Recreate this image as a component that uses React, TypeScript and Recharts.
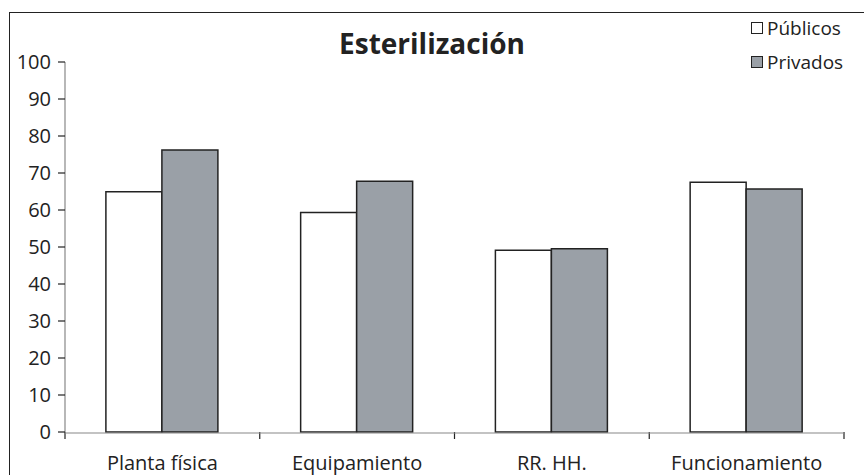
import { Bar, BarChart, Legend, XAxis, YAxis } from "recharts"

const categories = ["Planta física", "Equipamiento", "RR. HH.", "Funcionamiento"]
const publicos = [64.9, 59.3, 49.1, 67.5]
const privados = [76.2, 67.8, 49.5, 65.7]
const seriesOrder = ["Públicos", "Privados"]
const yTicks = [0, 10, 20, 30, 40, 50, 60, 70, 80, 90, 100]
const boundaryTicks = [0, 1, 2, 3, 4]

const data = categories.map((name, i) => ({ name, idx: i + 0.5, publicos: publicos[i], privados: privados[i] }))

const FONT = "'Open Sans', sans-serif"
const GRAY = "#9aa0a7"

function LegendBox({ payload }: any) {
  const items = [...(payload || [])].sort((a: any, b: any) => seriesOrder.indexOf(a.value) - seriesOrder.indexOf(b.value))
  return (
    <div style={{ fontFamily: FONT, fontSize: 19, color: "#222" }}>
      {items.map((p: any) => (
        <div key={p.value} style={{ display: "flex", alignItems: "center", height: 34 }}>
          <span style={{ width: 10, height: 10, border: "1.5px solid #222", background: p.payload.fill, marginRight: 4 }} />
          {p.value}
        </div>
      ))}
    </div>
  )
}

// boundary ticks only need the tick line, no label
const NoLabel = () => <g />

export default function App() {
  return (
    <div style={{ position: "absolute", left: 0, top: 0, width: 864, height: 475, overflow: "hidden", background: "#fff" }}>
      <div style={{ position: "absolute", left: 9, top: 12, width: 900, height: 500, border: "1.5px solid #222" }} />
      <div style={{ position: "absolute", left: 432, top: 24, transform: "translateX(-50%)", fontFamily: FONT, fontWeight: 700, fontSize: 28, color: "#222", whiteSpace: "nowrap" }}>
        Esterilización
      </div>
      <BarChart width={864} height={475} data={data} margin={{ top: 62, right: 20, bottom: 0, left: 0 }}
        barGap={0} barCategoryGap="21%" style={{ position: "absolute", left: 0, top: 0 }}>
        <XAxis xAxisId="b" type="number" dataKey="idx" domain={[0, 4]} ticks={boundaryTicks} height={1} interval={0}
          axisLine={false} tickSize={7} tickLine={{ stroke: "#222", strokeWidth: 1.2 }} tick={<NoLabel />} />
        <XAxis xAxisId="c" dataKey="name" height={42} tickLine={false} tickSize={0} tickMargin={23}
          axisLine={{ stroke: "#888", strokeWidth: 1.2 }} tick={{ fill: "#222", fontSize: 20, fontFamily: FONT }} interval={0} />
        <YAxis width={65} domain={[0, 100]} ticks={yTicks} interval={0} tickSize={7} tickMargin={7}
          axisLine={{ stroke: "#888", strokeWidth: 1.2 }} tickLine={{ stroke: "#222", strokeWidth: 1.2 }}
          tick={{ fill: "#222", fontSize: 20, fontFamily: FONT }} />
        <Legend layout="vertical" verticalAlign="middle" align="center" content={<LegendBox />}
          wrapperStyle={{ position: "absolute", left: 751, top: 11, width: 110 }} />
        <Bar xAxisId="c" dataKey="publicos" name="Públicos" fill="#fff" stroke="#222" strokeWidth={1.5} isAnimationActive={false} />
        <Bar xAxisId="c" dataKey="privados" name="Privados" fill={GRAY} stroke="#222" strokeWidth={1.5} isAnimationActive={false} />
      </BarChart>
    </div>
  )
}
